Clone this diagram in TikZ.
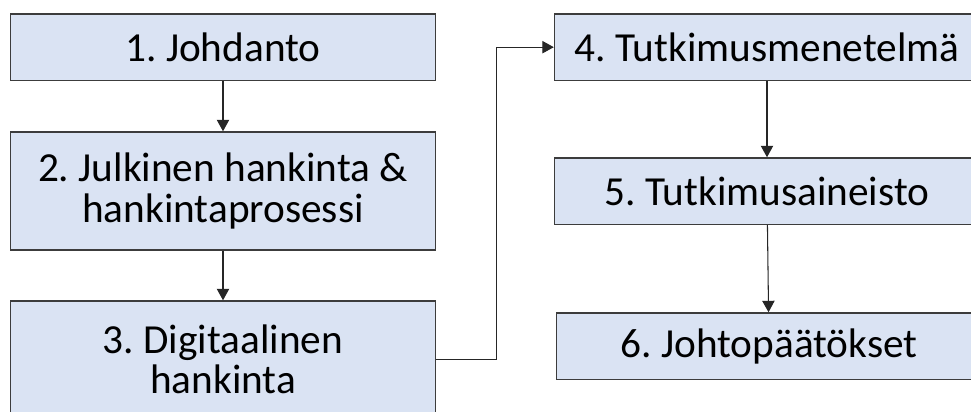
\documentclass[tikz,border=0pt]{standalone}
\usepackage{fontspec}
\setmainfont{Carlito}
\usepackage{xcolor}
\usepackage{tikz}
\usetikzlibrary{arrows.meta, positioning, calc}
\frenchspacing

\definecolor{boxblue}{HTML}{DAE3F3}
\definecolor{boxline}{HTML}{3C3C3C}

\begin{document}
\begin{tikzpicture}[
    font=\fontsize{23.5}{23}\selectfont,
    >={Triangle[width=7pt, length=6.5pt]},
    chapter/.style={draw=boxline, line width=0.8pt, fill=boxblue, align=center, inner sep=0pt, minimum width=8.5cm, minimum height=1.33cm},
    arrow/.style={->, line width=0.6pt, black!85}
]

\clip (0, 0) rectangle (19.42, 8.24);

% Nodes
\node[chapter] (intro) at (4.46, 7.296) {1. Johdanto};
\node[chapter, minimum height=2.36cm] (procure) at (4.46, 4.42) {2. Julkinen hankinta \&\\hankintaprosessi};
\node[chapter, minimum height=2.34cm] (digital) at (4.46, 1.05) {3. Digitaalinen\\hankinta};

\node[chapter] (method) at (15.34, 7.296) {4. Tutkimusmenetelmä};
\node[chapter] (data) at (15.34, 4.416) {5. Tutkimusaineisto};
\node[chapter] (concl) at (15.38, 1.316) {6. Johtopäätökset};

% Left column
\draw[arrow] (intro) -- (procure);
\draw[arrow] (procure) -- (digital);

% Across
\draw[arrow] (digital.east) -- ++(1.2, 0) |- (method.west);

% Right column
\draw[arrow] (method) -- (data);
\draw[arrow] (data) -- (concl);

\end{tikzpicture}
\end{document}
